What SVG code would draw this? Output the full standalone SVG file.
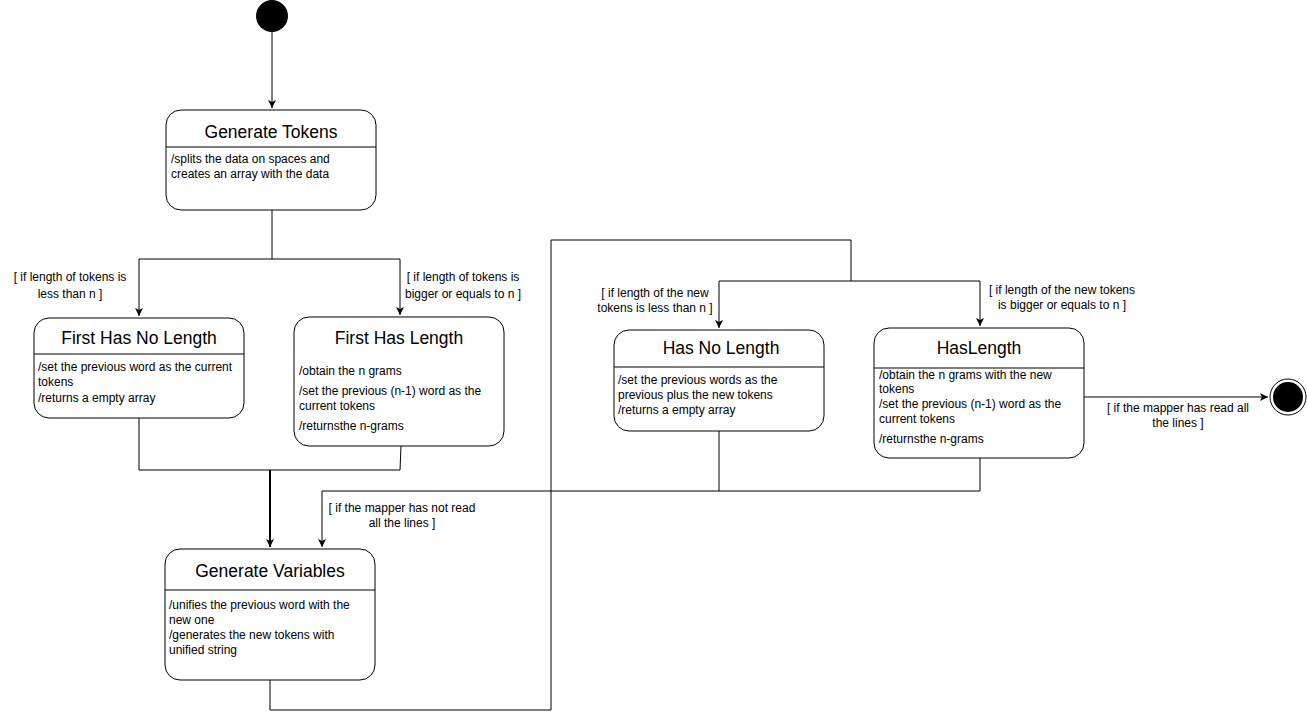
<svg xmlns="http://www.w3.org/2000/svg" width="1307" height="719" viewBox="0 0 1307 719">
  <style>
    .state { fill: #ffffff; stroke: #000000; stroke-width: 1; }
    .div { stroke: #000000; stroke-width: 1; }
    .title { font-family: "Liberation Sans", Arial, sans-serif; font-size: 17.5px; fill: #000; text-anchor: middle; }
    .body { font-family: "Liberation Sans", Arial, sans-serif; font-size: 12px; fill: #000; }
    .lbl { font-family: "Liberation Sans", Arial, sans-serif; font-size: 12px; fill: #000; text-anchor: middle; }
    .wire { fill: none; stroke: #000000; stroke-width: 1; }
    .thick { fill: none; stroke: #000000; stroke-width: 2; }
  </style>
  <defs>
    <marker id="arrow" markerWidth="10" markerHeight="10" refX="8" refY="5" orient="auto" markerUnits="userSpaceOnUse">
      <path d="M0,1 L8,5 L0,9 L2,5 Z" fill="#000"/>
    </marker>
  </defs>
  <rect width="1307" height="719" fill="#ffffff"/>

  <!-- transitions -->
  <g id="connectors">
    <path class="wire" d="M272,32 L272,108" marker-end="url(#arrow)"/>
    <path class="wire" d="M272,210 L272,259 M139,259 L400,259"/>
    <path class="wire" d="M139,259 L139,316" marker-end="url(#arrow)"/>
    <path class="wire" d="M400,259 L400,315" marker-end="url(#arrow)"/>
    <path class="wire" d="M139,418 L139,470 L400,470 L401,446"/>
    <path class="thick" d="M270,470 L270,547" marker-end="url(#arrow)"/>
    <path class="wire" d="M270,680 L270,710 L551,710 L551,240 L851,240 L851,281"/>
    <path class="wire" d="M719,281 L980,281"/>
    <path class="wire" d="M719,281 L719,328" marker-end="url(#arrow)"/>
    <path class="wire" d="M980,281 L980,326" marker-end="url(#arrow)"/>
    <path class="wire" d="M719,431 L719,491 M980,458 L980,491 L322,491"/>
    <path class="wire" d="M322,491 L322,547" marker-end="url(#arrow)"/>
    <path class="wire" d="M1084,397 L1268,397" marker-end="url(#arrow)"/>

    <text class="lbl" x="70" y="281">[ if length of tokens is</text>
    <text class="lbl" x="70" y="298">less than n ]</text>
    <text class="lbl" x="463" y="281">[ if length of tokens is</text>
    <text class="lbl" x="463" y="298">bigger or equals to n ]</text>
    <text class="lbl" x="655" y="297">[ if length of the new</text>
    <text class="lbl" x="655" y="312">tokens is less than n ]</text>
    <text class="lbl" x="1062" y="294">[ if length of the new tokens</text>
    <text class="lbl" x="1062" y="309">is bigger or equals to n ]</text>
    <text class="lbl" x="1178" y="412">[ if the mapper has read all</text>
    <text class="lbl" x="1178" y="427">the lines ]</text>
    <text class="lbl" x="402" y="512">[ if the mapper has not read</text>
    <text class="lbl" x="402" y="527">all the lines ]</text>
  </g>

  <!-- pseudo states -->
  <g id="initial">
    <circle cx="272" cy="16" r="16" fill="#000"/>
  </g>
  <g id="final">
    <circle cx="1288" cy="397" r="18" fill="#fff" stroke="#000" stroke-width="1"/>
    <circle cx="1288" cy="397" r="15" fill="#000"/>
  </g>

  <g id="generate-tokens">
    <rect class="state" x="166" y="110" width="210" height="100" rx="15" ry="15"/>
    <line class="div" x1="166" y1="147" x2="376" y2="147"/>
    <text class="title" x="271" y="138">Generate Tokens</text>
    <text class="body" x="171" y="163">/splits the data on spaces and</text>
    <text class="body" x="171" y="178">creates an array with the data</text>
  </g>

  <g id="first-has-no-length">
    <rect class="state" x="34" y="318" width="210" height="100" rx="15" ry="15"/>
    <line class="div" x1="34" y1="354" x2="244" y2="354"/>
    <text class="title" x="139" y="344">First Has No Length</text>
    <text class="body" x="38" y="371">/set the previous word as the current</text>
    <text class="body" x="38" y="386">tokens</text>
    <text class="body" x="38" y="402">/returns a empty array</text>
  </g>

  <g id="first-has-length">
    <rect class="state" x="294" y="317" width="210" height="129" rx="15" ry="15"/>
    <text class="title" x="399" y="344">First Has Length</text>
    <text class="body" x="299" y="375">/obtain the n grams</text>
    <text class="body" x="299" y="395">/set the previous (n-1) word as the</text>
    <text class="body" x="299" y="410">current tokens</text>
    <text class="body" x="299" y="430">/returnsthe n-grams</text>
  </g>

  <g id="generate-variables">
    <rect class="state" x="165" y="549" width="210" height="131" rx="15" ry="15"/>
    <line class="div" x1="165" y1="590" x2="375" y2="590"/>
    <text class="title" x="270" y="577">Generate Variables</text>
    <text class="body" x="169" y="609">/unifies the previous word with the</text>
    <text class="body" x="169" y="624">new one</text>
    <text class="body" x="169" y="639">/generates the new tokens with</text>
    <text class="body" x="169" y="654">unified string</text>
  </g>

  <g id="has-no-length">
    <rect class="state" x="614" y="330" width="210" height="101" rx="15" ry="15"/>
    <line class="div" x1="614" y1="367" x2="824" y2="367"/>
    <text class="title" x="721" y="354">Has No Length</text>
    <text class="body" x="618" y="384">/set the previous words as the</text>
    <text class="body" x="618" y="399">previous plus the new tokens</text>
    <text class="body" x="618" y="414">/returns a empty array</text>
  </g>

  <g id="has-length">
    <rect class="state" x="874" y="328" width="210" height="130" rx="15" ry="15"/>
    <line class="div" x1="874" y1="368" x2="1084" y2="368"/>
    <text class="title" x="979" y="354">HasLength</text>
    <text class="body" x="879" y="379">/obtain the n grams with the new</text>
    <text class="body" x="879" y="393">tokens</text>
    <text class="body" x="879" y="408">/set the previous (n-1) word as the</text>
    <text class="body" x="879" y="423">current tokens</text>
    <text class="body" x="879" y="443">/returnsthe n-grams</text>
  </g>
</svg>
